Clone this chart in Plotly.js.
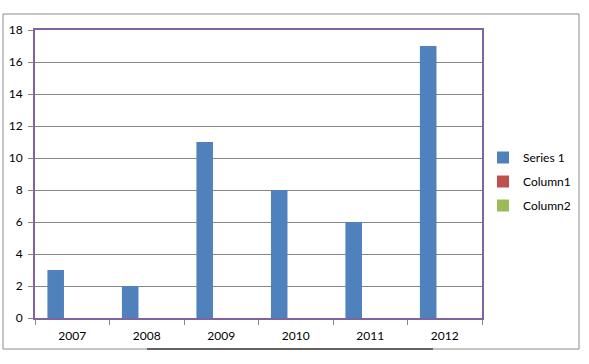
<!DOCTYPE html>
<html>
<head>
<meta charset="utf-8">
<script src="https://cdn.plot.ly/plotly-3.0.1.min.js"></script>
<style>html,body{margin:0;padding:0;background:#fff;}#chart{width:589px;height:364px;}</style>
</head>
<body>
<div id="chart"></div>
<script>
const categories = ["2007", "2008", "2009", "2010", "2011", "2012"];
const series1 = [3, 2, 11, 8, 6, 17];
const column1 = [0, 0, 0, 0, 0, 0];
const column2 = [0, 0, 0, 0, 0, 0];
const yTicks = [0, 2, 4, 6, 8, 10, 12, 14, 16, 18];

const font = {family: "Lato, 'Open Sans', sans-serif", size: 12, color: "#000"};
const mk = (name, y, color, grp) => ({
  type: "bar", name: name, x: categories, y: y, legendgroup: grp,
  marker: {color: color, line: {width: 0}}
});
const traces = [
  mk("Series 1", series1, "#4F81BD", "a"),
  mk("Column1", column1, "#C0504D", "b"),
  mk("Column2", column2, "#9BBB59", "c")
];
const L = 35, R = 482, T = 30, B = 318, W = 589, H = 364;
const pw = R - L, ph = B - T;
const px = v => (v - L) / pw, py = v => (B - v) / ph;
const layout = {
  width: W, height: H,
  margin: {l: L, r: W - R, t: T, b: H - B, pad: 0, autoexpand: false},
  paper_bgcolor: "#fff", plot_bgcolor: "#fff",
  font: font,
  barmode: "group", bargap: 1.5 / 4.5, bargroupgap: 0,
  showlegend: true,
  legend: {xref: "container", yref: "container", x: 483 / W, y: 1 - 143 / H, xanchor: "left", yanchor: "top",
    traceorder: "grouped", tracegroupgap: 5, font: font, itemwidth: 30,
    bgcolor: "rgba(0,0,0,0)"},
  xaxis: {type: "category", showline: true, linecolor: "#8064A2", linewidth: 2, mirror: true,
    ticks: "outside", tickson: "boundaries", ticklen: 5, tickcolor: "#868686", tickwidth: 1,
    showgrid: false, tickfont: font, ticklabelstandoff: 6, zeroline: false},
  yaxis: {range: [0, 18], tickvals: yTicks, showline: true, linecolor: "#8064A2", linewidth: 2, mirror: true,
    ticks: "outside", ticklen: 5, tickcolor: "#868686", tickwidth: 1,
    showgrid: true, gridcolor: "#868686", gridwidth: 1, zeroline: false,
    tickfont: font, ticklabelstandoff: 3, fixedrange: true},
  shapes: [
    {type: "rect", xref: "paper", yref: "paper", x0: px(3), x1: px(579), y0: py(349), y1: py(14),
      line: {color: "#8C8C8C", width: 1}, fillcolor: "rgba(0,0,0,0)", layer: "below"},
    {type: "line", xref: "paper", yref: "paper", x0: px(147), x1: px(433), y0: py(349), y1: py(349),
      line: {color: "#000", width: 1}}
  ]
};
Plotly.newPlot("chart", traces, layout, {displayModeBar: false, staticPlot: true});
</script>
</body>
</html>
